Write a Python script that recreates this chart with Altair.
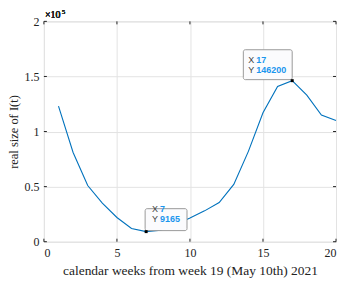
import altair as alt
import pandas as pd

weeks = list(range(1, 21))
values = [123000, 81000, 51000, 35000, 22000, 12000, 9165, 10500, 15500, 21500,
          28000, 35500, 52000, 82000, 117000, 141000, 146200, 133000, 115000, 110000]
x_ticks = [0, 5, 10, 15, 20]
y_ticks = [0, 50000, 100000, 150000, 200000]
tip_peak = {"x": 17, "y": 146200}
tip_min = {"x": 7, "y": 9165}

W, H = 293, 221
FONT = "'Liberation Serif', 'Times New Roman', Times, serif"
SANS = "'Liberation Sans', Arial, Helvetica, sans-serif"
LINE = "#0072BD"
TIPBLUE = "#1a96ee"

df = pd.DataFrame({"week": weeks, "value": values})
xt = pd.DataFrame({"t": x_ticks})
yt = pd.DataFrame({"t": y_ticks})

xs = alt.Scale(domain=[0, 20], nice=False, zero=False)
ys = alt.Scale(domain=[0, 200000], nice=False)

base = alt.Chart(df)

line = base.mark_line(color=LINE, strokeWidth=1.1).encode(
    x=alt.X("week:Q", scale=xs,
            axis=alt.Axis(values=x_ticks, title="calendar weeks from week 19 (May 10th) 2021",
                          grid=True, gridColor="#e3e3e3", ticks=False, domain=False,
                          labelFont=FONT, labelFontSize=12, labelColor="#222",
                          labelPadding=6, titleFont=FONT, titleFontSize=13.5,
                          titleFontWeight="normal", titleColor="#222", titlePadding=5)),
    y=alt.Y("value:Q", scale=ys,
            axis=alt.Axis(values=y_ticks, title="real size of I(t)",
                          labelExpr="datum.value / 100000",
                          grid=True, gridColor="#e3e3e3", ticks=False, domain=False,
                          labelFont=FONT, labelFontSize=12, labelColor="#222",
                          labelPadding=5, titleFont=FONT, titleFontSize=12.5,
                          titleFontWeight="normal", titleColor="#222", titlePadding=3)),
)

# inward ticks on four sides
tb = alt.Chart(xt).mark_rule(color="#222", strokeWidth=1).encode(
    x=alt.X("t:Q", scale=xs), y=alt.value(H), y2=alt.value(H - 3))
tt = alt.Chart(xt).mark_rule(color="#222", strokeWidth=1).encode(
    x=alt.X("t:Q", scale=xs), y=alt.value(0), y2=alt.value(3))
tl = alt.Chart(yt).mark_rule(color="#222", strokeWidth=1).encode(
    y=alt.Y("t:Q", scale=ys), x=alt.value(0), x2=alt.value(3))
tr = alt.Chart(yt).mark_rule(color="#222", strokeWidth=1).encode(
    y=alt.Y("t:Q", scale=ys), x=alt.value(W), x2=alt.value(W - 3))

exp1 = alt.Chart(xt).mark_text(font=FONT, fontSize=10, color="#222", align="left",
                               baseline="alphabetic").encode(
    x=alt.value(1), y=alt.value(-3), text=alt.value("×10"))
exp2 = alt.Chart(xt).mark_text(font=FONT, fontSize=7, color="#222", align="left",
                               baseline="alphabetic").encode(
    x=alt.value(18), y=alt.value(-7), text=alt.value("5"))


def tip(d, bx0, bx1, by0, by1, tx, b1, b2):
    td = pd.DataFrame([d])
    c = alt.Chart(td)
    enc = dict(x=alt.X("x:Q", scale=xs), y=alt.Y("y:Q", scale=ys))
    box = c.mark_rect(fill="#fbfbfd", stroke="#9a9a9a", strokeWidth=1, cornerRadius=2,
                      xOffset=bx0, x2Offset=bx1, yOffset=by0, y2Offset=by1).encode(
        x2=alt.X2("x:Q"), y2=alt.Y2("y:Q"), **enc)
    lx = c.mark_text(font=SANS, fontSize=9, color="#404040", align="left",
                     dx=tx, dy=b1, baseline="alphabetic").encode(text=alt.value("X"), **enc)
    vx = c.mark_text(font=SANS, fontSize=9, fontWeight="bold", color=TIPBLUE,
                     align="left", dx=tx + 8, dy=b1, baseline="alphabetic").encode(
        text="x:N", **enc)
    ly = c.mark_text(font=SANS, fontSize=9, color="#404040", align="left",
                     dx=tx, dy=b2, baseline="alphabetic").encode(text=alt.value("Y"), **enc)
    vy = c.mark_text(font=SANS, fontSize=9, fontWeight="bold", color=TIPBLUE,
                     align="left", dx=tx + 8, dy=b2, baseline="alphabetic").encode(
        text="y:N", **enc)
    pt = c.mark_square(color="black", size=9, opacity=1).encode(**enc)
    return box + lx + vx + ly + vy + pt


tip1 = tip(tip_peak, -49, 0, -31, -1, -44, -18, -7.5)
tip2 = tip(tip_min, -1, 41, -23, -1, 6, -19.5, -10)

chart = alt.layer(line, tb, tt, tl, tr, exp1, exp2, tip1, tip2).properties(
    width=W, height=H,
    autosize=alt.AutoSizeParams(type="none"),
    padding={"left": 36, "top": 13, "right": 4, "bottom": 40},
).configure_view(stroke="#222", strokeWidth=1).configure(background="white")

chart.save("out.html", embed_options={"renderer": "svg", "actions": False})
